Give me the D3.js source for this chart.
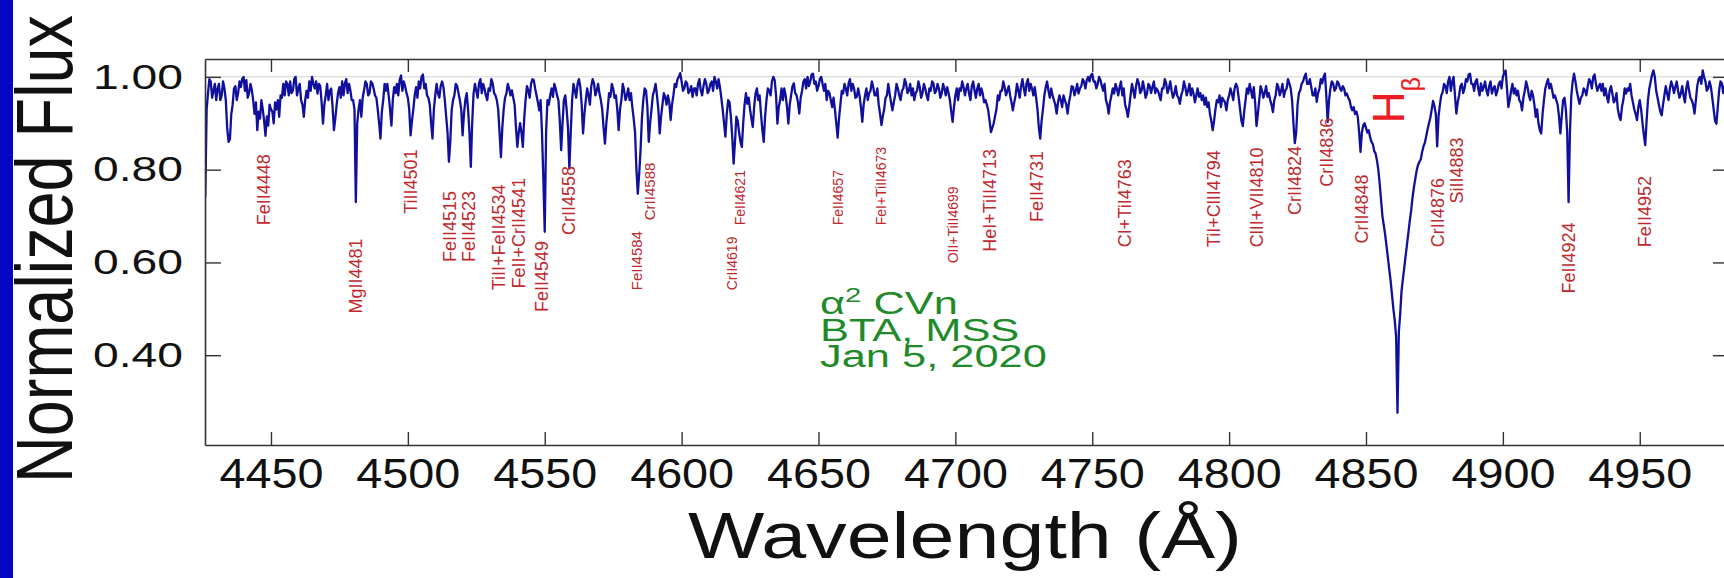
<!DOCTYPE html>
<html>
<head>
<meta charset="utf-8">
<script src="https://cdn.jsdelivr.net/npm/d3@7"></script>
<style>
  html, body { margin: 0; padding: 0; background: #ffffff; }
  svg { display: block; }
  text { font-family: "Liberation Sans", Arial, Helvetica, sans-serif; }
</style>
</head>
<body>
<svg id="chart" width="1724" height="578"></svg>
<script>
// Normalized spectrum of alpha2 CVn on a 0.5 Angstrom grid (one row = 10 A).
const lambdaStart = 4426;
const lambdaStep = 0.5;
const flux = [
  /* 4426 */ 0.740,0.930,0.965,0.995,0.990,0.955,0.970,0.985,0.950,0.975,0.985,0.950,0.960,0.990,0.975,0.950,0.890,0.860,0.865,0.920,
  /* 4436 */ 0.940,0.975,0.980,0.950,0.965,0.990,0.978,0.996,1.000,0.970,0.993,0.955,0.965,0.985,0.972,0.950,0.920,0.945,0.885,0.925,
  /* 4446 */ 0.910,0.950,0.930,0.905,0.873,0.915,0.895,0.940,0.930,0.925,0.900,0.945,0.930,0.950,0.914,0.960,0.955,0.985,0.960,0.990,
  /* 4456 */ 0.985,0.960,0.990,0.965,0.970,0.995,1.000,0.960,0.975,0.985,0.950,0.940,0.914,0.950,0.970,0.955,0.990,0.970,1.000,0.985,
  /* 4466 */ 0.975,0.990,0.964,0.985,0.980,0.945,0.899,0.940,0.960,0.985,0.950,0.970,0.975,0.935,0.885,0.910,0.940,0.965,0.978,0.955,
  /* 4476 */ 0.990,0.960,0.986,0.995,0.965,0.985,0.971,0.950,0.950,0.930,0.730,0.900,0.930,0.950,0.914,0.955,0.971,0.990,0.985,0.960,
  /* 4486 */ 0.965,0.990,0.986,0.975,0.960,0.955,0.930,0.900,0.867,0.925,0.950,0.985,0.970,0.985,0.960,0.930,0.895,0.950,0.978,0.965,
  /* 4496 */ 0.985,0.960,0.993,1.003,0.970,0.990,0.980,0.965,0.955,0.930,0.874,0.905,0.930,0.960,0.978,0.955,0.990,0.975,1.000,1.005,
  /* 4506 */ 0.975,0.985,0.960,0.955,0.940,0.900,0.867,0.930,0.960,0.985,0.964,0.955,0.980,0.990,0.978,0.950,0.914,0.880,0.817,0.860,
  /* 4516 */ 0.928,0.950,0.960,0.985,0.980,0.965,0.950,0.930,0.874,0.920,0.950,0.965,0.930,0.880,0.806,0.900,0.964,0.985,0.970,0.955,
  /* 4526 */ 0.986,0.995,0.965,0.985,0.975,0.960,0.950,0.975,0.970,0.995,0.986,0.965,0.960,0.950,0.930,0.880,0.827,0.890,0.930,0.955,
  /* 4536 */ 0.964,0.985,0.975,0.960,0.971,0.955,0.940,0.890,0.849,0.880,0.900,0.880,0.849,0.910,0.950,0.980,0.971,0.955,0.985,0.995,
  /* 4546 */ 0.993,0.975,0.960,0.945,0.928,0.950,0.880,0.780,0.666,0.880,0.950,0.940,0.960,0.975,0.957,0.985,0.975,0.960,0.950,0.905,
  /* 4556 */ 0.842,0.900,0.950,0.960,0.930,0.890,0.802,0.880,0.950,0.985,0.971,0.955,0.985,0.995,0.978,0.940,0.878,0.920,0.950,0.975,
  /* 4566 */ 0.960,0.940,0.980,0.995,0.986,0.960,0.970,0.985,0.964,0.950,0.930,0.890,0.856,0.900,0.930,0.965,0.957,0.985,0.975,0.955,
  /* 4576 */ 0.960,0.930,0.885,0.930,0.950,0.985,0.971,0.950,0.960,0.975,0.950,0.965,0.935,0.910,0.880,0.800,0.748,0.790,0.842,0.910,
  /* 4586 */ 0.950,0.975,0.971,0.935,0.860,0.900,0.930,0.960,0.971,0.985,0.960,0.930,0.878,0.915,0.940,0.965,0.957,0.940,0.960,0.945,
  /* 4596 */ 0.907,0.940,0.960,0.985,0.978,0.995,1.000,1.008,0.990,0.970,0.975,0.990,0.986,0.965,0.970,0.980,0.957,0.975,0.975,0.960,
  /* 4606 */ 0.985,0.995,0.971,0.960,0.980,0.995,0.986,0.965,0.970,0.985,0.990,0.970,1.000,0.990,0.975,0.995,0.978,0.955,0.930,0.900,
  /* 4616 */ 0.871,0.920,0.950,0.945,0.914,0.870,0.813,0.860,0.914,0.905,0.880,0.860,0.849,0.900,0.940,0.965,0.942,0.955,0.930,0.910,
  /* 4626 */ 0.892,0.935,0.964,0.975,0.950,0.960,0.920,0.885,0.860,0.915,0.950,0.975,0.971,0.960,0.990,1.000,0.993,0.960,0.899,0.935,
  /* 4636 */ 0.950,0.975,0.950,0.975,0.960,0.935,0.899,0.940,0.960,0.980,0.986,0.965,0.960,0.945,0.921,0.955,0.970,0.990,0.995,0.975,
  /* 4646 */ 1.000,0.980,0.990,1.005,1.007,0.985,0.990,0.970,0.980,0.995,1.000,0.985,0.970,0.985,0.950,0.970,0.965,0.950,0.935,0.955,
  /* 4656 */ 0.930,0.900,0.869,0.910,0.940,0.970,0.964,0.985,0.975,0.960,0.986,0.995,0.970,0.985,0.975,0.955,0.957,0.975,0.960,0.935,
  /* 4666 */ 0.903,0.940,0.960,0.975,0.950,0.965,0.970,0.990,0.978,0.960,0.960,0.975,0.940,0.920,0.896,0.915,0.930,0.955,0.960,0.985,
  /* 4676 */ 0.964,0.945,0.928,0.945,0.960,0.985,0.975,0.960,0.950,0.970,0.975,0.995,0.986,0.965,0.970,0.985,0.960,0.975,0.950,0.965,
  /* 4686 */ 0.970,0.990,0.978,0.955,0.965,0.985,0.975,0.960,0.950,0.975,0.970,0.990,0.986,0.965,0.970,0.985,0.975,0.955,0.964,0.985,
  /* 4696 */ 0.975,0.960,0.978,0.965,0.950,0.925,0.903,0.935,0.960,0.975,0.950,0.975,0.970,0.990,0.978,0.960,0.975,0.985,0.964,0.950,
  /* 4706 */ 0.980,0.990,0.971,0.955,0.975,0.985,0.960,0.975,0.964,0.945,0.950,0.940,0.928,0.905,0.881,0.890,0.900,0.915,0.930,0.960,
  /* 4716 */ 0.950,0.970,0.970,0.990,0.978,0.960,0.970,0.980,0.960,0.945,0.928,0.945,0.960,0.985,0.971,0.955,0.980,0.995,0.975,0.960,
  /* 4726 */ 0.986,0.995,0.970,0.985,0.975,0.960,0.978,0.955,0.930,0.890,0.867,0.905,0.930,0.960,0.978,0.990,0.970,0.955,0.975,0.960,
  /* 4736 */ 0.950,0.940,0.921,0.945,0.960,0.950,0.935,0.960,0.950,0.940,0.921,0.945,0.960,0.980,0.978,0.960,0.970,0.985,0.964,0.975,
  /* 4746 */ 0.980,0.995,0.990,0.975,0.993,1.000,0.990,1.003,1.007,0.990,0.990,0.975,0.985,1.000,0.993,0.980,0.970,0.985,0.950,0.940,
  /* 4756 */ 0.921,0.945,0.960,0.975,0.964,0.985,0.975,0.960,0.978,0.990,0.960,0.975,0.940,0.930,0.914,0.935,0.960,0.985,0.971,0.955,
  /* 4766 */ 0.980,0.995,0.986,0.965,0.970,0.990,0.975,0.955,0.964,0.985,0.980,0.965,0.978,0.990,0.965,0.975,0.970,0.960,0.950,0.975,
  /* 4776 */ 0.975,0.995,0.986,0.965,0.975,0.990,0.970,0.955,0.964,0.980,0.960,0.955,0.942,0.960,0.970,0.990,0.978,0.960,0.970,0.985,
  /* 4786 */ 0.960,0.975,0.964,0.945,0.960,0.975,0.957,0.965,0.950,0.960,0.940,0.955,0.935,0.945,0.920,0.905,0.885,0.905,0.930,0.950,
  /* 4796 */ 0.945,0.960,0.935,0.955,0.950,0.945,0.928,0.950,0.960,0.975,0.964,0.950,0.975,0.985,0.978,0.955,0.930,0.905,0.894,0.925,
  /* 4806 */ 0.950,0.975,0.964,0.985,0.970,0.955,0.978,0.945,0.894,0.920,0.950,0.980,0.971,0.955,0.965,0.980,0.957,0.965,0.950,0.940,
  /* 4816 */ 0.924,0.950,0.960,0.985,0.978,0.960,0.970,0.985,0.957,0.970,0.975,0.995,0.986,0.975,0.950,0.900,0.857,0.880,0.940,0.965,
  /* 4826 */ 0.971,0.985,0.990,1.000,1.007,0.985,0.985,0.995,0.978,0.960,0.960,0.975,0.946,0.965,0.975,0.995,0.986,1.000,1.007,0.960,
  /* 4836 */ 0.903,0.950,0.975,0.990,0.986,0.970,0.975,0.990,0.986,0.975,0.970,0.980,0.975,0.960,0.964,0.955,0.950,0.935,0.928,0.935,
  /* 4846 */ 0.920,0.925,0.914,0.880,0.838,0.880,0.896,0.900,0.890,0.880,0.885,0.870,0.860,0.855,0.840,0.835,0.820,0.800,0.770,0.735,
  /* 4856 */ 0.700,0.680,0.660,0.635,0.610,0.585,0.560,0.530,0.500,0.475,0.440,0.276,0.450,0.490,0.540,0.565,0.590,0.615,0.640,0.665,
  /* 4866 */ 0.690,0.712,0.740,0.762,0.780,0.798,0.810,0.817,0.822,0.838,0.850,0.858,0.872,0.887,0.900,0.912,0.930,0.948,0.937,0.920,
  /* 4876 */ 0.850,0.915,0.940,0.960,0.967,0.985,0.980,0.965,0.990,1.000,0.970,0.990,1.000,0.960,0.921,0.945,0.960,0.980,0.985,0.965,
  /* 4886 */ 0.975,0.995,0.990,1.005,1.007,0.985,0.985,0.970,0.990,0.995,0.975,0.960,0.986,0.970,0.978,0.990,0.971,0.960,0.980,0.990,
  /* 4896 */ 0.964,0.975,0.980,0.960,0.970,0.985,0.990,0.975,1.000,1.010,1.014,0.975,0.935,0.950,0.970,0.985,0.964,0.975,0.960,0.970,
  /* 4906 */ 0.950,0.945,0.928,0.955,0.970,0.990,0.978,0.960,0.950,0.970,0.960,0.940,0.914,0.930,0.900,0.885,0.878,0.920,0.950,0.975,
  /* 4916 */ 0.986,0.995,0.975,0.985,0.971,0.955,0.960,0.950,0.940,0.915,0.878,0.915,0.950,0.955,0.930,0.880,0.730,0.880,0.960,0.990,
  /* 4926 */ 1.007,0.990,0.970,0.955,0.942,0.955,0.960,0.975,0.971,0.960,0.980,0.995,0.990,0.975,1.000,1.005,0.985,0.970,0.978,0.985,
  /* 4936 */ 0.970,0.985,0.960,0.975,0.957,0.945,0.970,0.980,0.964,0.945,0.950,0.965,0.930,0.915,0.907,0.935,0.950,0.975,0.964,0.975,
  /* 4946 */ 0.970,0.985,0.960,0.945,0.930,0.920,0.907,0.935,0.950,0.930,0.900,0.875,0.853,0.905,0.950,0.975,0.990,1.005,1.014,1.000,
  /* 4956 */ 0.970,0.955,0.940,0.925,0.917,0.940,0.960,0.980,0.964,0.950,0.975,0.990,0.980,0.965,0.978,0.990,0.970,0.955,0.964,0.980,
  /* 4966 */ 0.960,0.945,0.975,0.990,0.971,0.955,0.950,0.940,0.921,0.950,0.980,0.995,1.000,0.985,1.014,1.000,0.990,0.970,0.975,0.990,
  /* 4976 */ 0.978,0.955,0.930,0.905,0.899,0.935,0.971,0.990,0.986,0.965,0.980,0.990,0.975
];

// Axis ticks
const xTicks = [4450, 4500, 4550, 4600, 4650, 4700, 4750, 4800, 4850, 4900, 4950];
const yTicks = [0.40, 0.60, 0.80, 1.00];

// Line identifications: label text, wavelength where the label stands,
// and the flux level at the lower end of the (vertical) label.
const lineNames = [
  "FeII4448", "MgII4481", "TiII4501", "FeII4515", "FeII4523",
  "TiII+FeII4534", "FeII+CrII4541", "FeII4549", "CrII4558", "FeII4584",
  "CrII4588", "CrII4619", "FeII4621", "FeII4657", "FeI+TiII4673",
  "OII+TiII4699", "HeI+TiII4713", "FeII4731", "CI+TiI4763", "TiI+ClII4794",
  "ClII+VII4810", "CrII4824", "CrII4836", "CrII4848", "CrII4876",
  "SiII4883", "FeII4924", "FeII4952"
];
const labelWave = [
  4447.2, 4480.7, 4500.8, 4515.1, 4522.1,
  4533.0, 4540.3, 4548.9, 4558.6, 4583.6,
  4588.4, 4618.3, 4621.3, 4657.2, 4673.0,
  4699.2, 4712.6, 4729.7, 4761.9, 4794.2,
  4810.0, 4824.0, 4835.6, 4848.4, 4876.3,
  4883.1, 4923.8, 4951.9
];
const labelFlux = [
  0.680, 0.490, 0.705, 0.601, 0.601,
  0.540, 0.544, 0.493, 0.659, 0.540,
  0.691, 0.540, 0.680, 0.680, 0.680,
  0.598, 0.623, 0.687, 0.633, 0.633,
  0.633, 0.702, 0.763, 0.641, 0.633,
  0.727, 0.533, 0.633
];

// Balmer line marker (wavelength, flux at the lower end of the label)
const balmerWave = 4861.3;
const balmerFlux = 0.900;

// Observation note
const noteLines = ["BTA, MSS", "Jan 5, 2020"];

const svg = d3.select("#chart");
const W = 1724, H = 578;
const plot = { left: 205, right: 1729, top: 59, bottom: 445 };

const x = d3.scaleLinear().domain([4425.9, 4982.6]).range([plot.left, plot.right]);
const y = d3.scaleLinear().domain([0.2065, 1.0385]).range([plot.bottom, plot.top]);

svg.append("rect").attr("width", W).attr("height", H).attr("fill", "#ffffff");

svg.append("defs").append("clipPath").attr("id", "plotClip")
  .append("rect")
  .attr("x", plot.left).attr("y", plot.top)
  .attr("width", plot.right - plot.left).attr("height", plot.bottom - plot.top);

// continuum level
svg.append("line")
  .attr("x1", plot.left).attr("x2", plot.right)
  .attr("y1", y(1)).attr("y2", y(1))
  .attr("stroke", "#d2d2d2").attr("stroke-width", 1);

// spectrum
const line = d3.line()
  .x((d, i) => x(lambdaStart + i * lambdaStep))
  .y(d => y(d));

svg.append("path")
  .datum(flux)
  .attr("clip-path", "url(#plotClip)")
  .attr("d", line)
  .attr("fill", "none")
  .attr("stroke", "#10109c")
  .attr("stroke-width", 2.3)
  .attr("stroke-linejoin", "round");

// axes (frame with inward ticks)
const axisColor = "#333333";
function styleAxis(g) {
  g.selectAll("path.domain").attr("stroke", axisColor).attr("stroke-width", 1.6);
  g.selectAll(".tick line").attr("stroke", axisColor).attr("stroke-width", 1.4);
}

const gBottom = svg.append("g")
  .attr("transform", `translate(0,${plot.bottom})`)
  .call(d3.axisBottom(x).tickValues(xTicks).tickSizeInner(-13).tickSizeOuter(0)
        .tickPadding(13).tickFormat(d3.format("d")));
styleAxis(gBottom);
gBottom.selectAll(".tick text")
  .attr("font-size", 42).attr("fill", "#111111")
  .attr("font-family", "Liberation Sans, Arial, sans-serif")
  .attr("textLength", 104).attr("lengthAdjust", "spacingAndGlyphs");

const gTop = svg.append("g")
  .attr("transform", `translate(0,${plot.top})`)
  .call(d3.axisTop(x).tickValues(xTicks).tickSizeInner(-13).tickSizeOuter(0).tickFormat(""));
styleAxis(gTop);

const gLeft = svg.append("g")
  .attr("transform", `translate(${plot.left},0)`)
  .call(d3.axisLeft(y).tickValues(yTicks).tickSizeInner(-16).tickSizeOuter(0)
        .tickPadding(22).tickFormat(d3.format(".2f")));
styleAxis(gLeft);
gLeft.selectAll(".tick text")
  .attr("font-size", 35).attr("fill", "#111111")
  .attr("font-family", "Liberation Sans, Arial, sans-serif")
  .attr("textLength", 90).attr("lengthAdjust", "spacingAndGlyphs");

const gRight = svg.append("g")
  .attr("transform", `translate(${plot.right},0)`)
  .call(d3.axisRight(y).tickValues(yTicks).tickSizeInner(-16).tickSizeOuter(0).tickFormat(""));
styleAxis(gRight);

// line identifications
const smallLabels = new Set(["CrII4619", "FeII4621", "FeII4657", "FeI+TiII4673", "OII+TiII4699"]);
const mediumLabels = new Set(["FeII4584", "CrII4588"]);
const gLabels = svg.append("g").attr("fill", "#c0282d");
lineNames.forEach((name, i) => {
  const fs = smallLabels.has(name) ? 14 : (mediumLabels.has(name) ? 15 : 18);
  gLabels.append("text")
    .attr("transform", `translate(${x(labelWave[i])},${y(labelFlux[i])}) rotate(-90)`)
    .attr("dy", "0.36em")
    .attr("font-size", fs)
    .text(name);
});

// H-beta marker
const hb = svg.append("text")
  .attr("transform", `translate(${x(balmerWave) + 7},${y(balmerFlux)}) rotate(-90)`)
  .attr("font-size", 44)
  .attr("fill", "#ec1c24");
hb.append("tspan").text("H");
hb.append("tspan").attr("font-size", 25).attr("dy", 16).text("β");

// object / instrument / date note
const note = svg.append("g")
  .attr("transform", `translate(820,314) scale(1.4,1)`)
  .attr("fill", "#1f8a2a")
  .attr("font-size", 31);
const t0 = note.append("text").attr("x", 0).attr("y", 0);
t0.append("tspan").text("α");
t0.append("tspan").attr("font-size", 21).attr("dy", -12).text("2");
t0.append("tspan").attr("dy", 12).text(" CVn");
noteLines.forEach((s, i) => {
  note.append("text").attr("x", 0).attr("y", 27 + i * 26).text(s);
});

// axis titles
svg.append("text")
  .attr("x", (plot.left + plot.right) / 2 - 2)
  .attr("y", 558)
  .attr("text-anchor", "middle")
  .attr("font-size", 65)
  .attr("fill", "#111111")
  .attr("textLength", 554).attr("lengthAdjust", "spacingAndGlyphs")
  .text("Wavelength (Å)");

svg.append("text")
  .attr("transform", "translate(72,249) rotate(-90)")
  .attr("text-anchor", "middle")
  .attr("font-size", 79)
  .attr("fill", "#111111")
  .attr("textLength", 468).attr("lengthAdjust", "spacingAndGlyphs")
  .text("Normalized Flux");

// blue strip along the left edge
svg.append("rect")
  .attr("x", 0).attr("y", 0).attr("width", 13).attr("height", H)
  .attr("fill", "#0606c4");
</script>
</body>
</html>
